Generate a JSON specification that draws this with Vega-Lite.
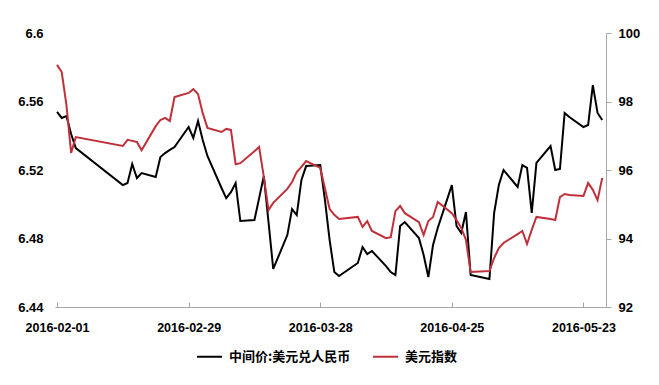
{
  "$schema": "https://vega.github.io/schema/vega-lite/v6.json",
  "width": 551,
  "height": 274,
  "autosize": {"type": "none"},
  "padding": {"left": 55, "top": 33, "right": 53, "bottom": 78},
  "background": "white",
  "config": {
    "view": {"stroke": null},
    "font": "Liberation Sans",
    "axis": {"grid": false, "labelFont": "Liberation Sans", "labelFontWeight": "bold", "labelColor": "#000000", "labelFontSize": 12.5, "title": null}
  },
  "data": {
    "values": [
      {"date": "2016-02-01", "cny": 6.5539, "dxy": 99.07},
      {"date": "2016-02-02", "cny": 6.5504, "dxy": 98.86},
      {"date": "2016-02-03", "cny": 6.5515, "dxy": 97.90},
      {"date": "2016-02-04", "cny": 6.5410, "dxy": 96.50},
      {"date": "2016-02-05", "cny": 6.5328, "dxy": 96.96},
      {"date": "2016-02-15", "cny": 6.5112, "dxy": 96.70},
      {"date": "2016-02-16", "cny": 6.5124, "dxy": 96.88},
      {"date": "2016-02-17", "cny": 6.5235, "dxy": 96.85},
      {"date": "2016-02-18", "cny": 6.5153, "dxy": 96.82},
      {"date": "2016-02-19", "cny": 6.5182, "dxy": 96.58},
      {"date": "2016-02-22", "cny": 6.5159, "dxy": 97.28},
      {"date": "2016-02-23", "cny": 6.5276, "dxy": 97.46},
      {"date": "2016-02-24", "cny": 6.5299, "dxy": 97.52},
      {"date": "2016-02-25", "cny": 6.5317, "dxy": 97.43},
      {"date": "2016-02-26", "cny": 6.5334, "dxy": 98.13},
      {"date": "2016-02-29", "cny": 6.5451, "dxy": 98.25},
      {"date": "2016-03-01", "cny": 6.5387, "dxy": 98.36},
      {"date": "2016-03-02", "cny": 6.5486, "dxy": 98.22},
      {"date": "2016-03-03", "cny": 6.5375, "dxy": 97.66},
      {"date": "2016-03-04", "cny": 6.5282, "dxy": 97.23},
      {"date": "2016-03-07", "cny": 6.5095, "dxy": 97.11},
      {"date": "2016-03-08", "cny": 6.5036, "dxy": 97.20},
      {"date": "2016-03-09", "cny": 6.5071, "dxy": 97.17},
      {"date": "2016-03-10", "cny": 6.5124, "dxy": 96.17},
      {"date": "2016-03-11", "cny": 6.4902, "dxy": 96.20},
      {"date": "2016-03-14", "cny": 6.4908, "dxy": 96.55},
      {"date": "2016-03-15", "cny": 6.5036, "dxy": 96.67},
      {"date": "2016-03-16", "cny": 6.5165, "dxy": 95.80},
      {"date": "2016-03-17", "cny": 6.4896, "dxy": 94.83},
      {"date": "2016-03-18", "cny": 6.4622, "dxy": 95.04},
      {"date": "2016-03-21", "cny": 6.4820, "dxy": 95.45},
      {"date": "2016-03-22", "cny": 6.4972, "dxy": 95.65},
      {"date": "2016-03-23", "cny": 6.4937, "dxy": 95.94},
      {"date": "2016-03-24", "cny": 6.5142, "dxy": 96.09},
      {"date": "2016-03-25", "cny": 6.5223, "dxy": 96.26},
      {"date": "2016-03-28", "cny": 6.5229, "dxy": 96.06},
      {"date": "2016-03-29", "cny": 6.5025, "dxy": 95.47},
      {"date": "2016-03-30", "cny": 6.4791, "dxy": 94.86},
      {"date": "2016-03-31", "cny": 6.4604, "dxy": 94.69},
      {"date": "2016-04-01", "cny": 6.4581, "dxy": 94.57},
      {"date": "2016-04-05", "cny": 6.4657, "dxy": 94.63},
      {"date": "2016-04-06", "cny": 6.4750, "dxy": 94.34},
      {"date": "2016-04-07", "cny": 6.4709, "dxy": 94.51},
      {"date": "2016-04-08", "cny": 6.4727, "dxy": 94.22},
      {"date": "2016-04-11", "cny": 6.4639, "dxy": 94.01},
      {"date": "2016-04-12", "cny": 6.4604, "dxy": 94.04},
      {"date": "2016-04-13", "cny": 6.4587, "dxy": 94.80},
      {"date": "2016-04-14", "cny": 6.4873, "dxy": 94.95},
      {"date": "2016-04-15", "cny": 6.4896, "dxy": 94.74},
      {"date": "2016-04-18", "cny": 6.4803, "dxy": 94.48},
      {"date": "2016-04-19", "cny": 6.4704, "dxy": 94.10},
      {"date": "2016-04-20", "cny": 6.4575, "dxy": 94.51},
      {"date": "2016-04-21", "cny": 6.4762, "dxy": 94.63},
      {"date": "2016-04-22", "cny": 6.4861, "dxy": 95.07},
      {"date": "2016-04-25", "cny": 6.5112, "dxy": 94.74},
      {"date": "2016-04-26", "cny": 6.4873, "dxy": 94.54},
      {"date": "2016-04-27", "cny": 6.4832, "dxy": 94.31},
      {"date": "2016-04-28", "cny": 6.4955, "dxy": 93.96},
      {"date": "2016-04-29", "cny": 6.4587, "dxy": 93.02},
      {"date": "2016-05-03", "cny": 6.4563, "dxy": 93.05},
      {"date": "2016-05-04", "cny": 6.4949, "dxy": 93.43},
      {"date": "2016-05-05", "cny": 6.5112, "dxy": 93.72},
      {"date": "2016-05-06", "cny": 6.5200, "dxy": 93.87},
      {"date": "2016-05-09", "cny": 6.5101, "dxy": 94.13},
      {"date": "2016-05-10", "cny": 6.5229, "dxy": 94.22},
      {"date": "2016-05-11", "cny": 6.5212, "dxy": 93.84},
      {"date": "2016-05-12", "cny": 6.4949, "dxy": 94.25},
      {"date": "2016-05-13", "cny": 6.5241, "dxy": 94.63},
      {"date": "2016-05-16", "cny": 6.5340, "dxy": 94.57},
      {"date": "2016-05-17", "cny": 6.5200, "dxy": 94.54},
      {"date": "2016-05-18", "cny": 6.5206, "dxy": 95.21},
      {"date": "2016-05-19", "cny": 6.5533, "dxy": 95.30},
      {"date": "2016-05-20", "cny": 6.5509, "dxy": 95.27},
      {"date": "2016-05-23", "cny": 6.5451, "dxy": 95.24},
      {"date": "2016-05-24", "cny": 6.5463, "dxy": 95.62},
      {"date": "2016-05-25", "cny": 6.5696, "dxy": 95.42},
      {"date": "2016-05-26", "cny": 6.5533, "dxy": 95.12},
      {"date": "2016-05-27", "cny": 6.5492, "dxy": 95.77}
    ]
  },
  "encoding": {
    "x": {
      "field": "date",
      "type": "temporal",
      "scale": {"type": "utc", "domain": [1454247648000, 1464376320000]},
      "axis": {
        "values": [1454284800000, 1456704000000, 1459123200000, 1461542400000, 1463961600000],
        "format": "%Y-%m-%d",
        "domainColor": "#a6a6a6",
        "domainWidth": 1,
        "tickColor": "#a6a6a6",
        "tickSize": -5,
        "labelPadding": 19,
        "labelOverlap": false,
        "labelFlush": false
      }
    }
  },
  "layer": [
    {
      "mark": {"type": "line", "strokeWidth": 2, "interpolate": "linear"},
      "encoding": {
        "y": {
          "field": "cny",
          "type": "quantitative",
          "scale": {"domain": [6.44, 6.6], "zero": false, "nice": false},
          "axis": {
            "orient": "left",
            "values": [6.44, 6.48, 6.52, 6.56, 6.6],
            "format": ".2~f",
            "domain": false,
            "ticks": false,
            "labelPadding": 12,
            "labelFontSize": 13
          }
        },
        "color": {
          "datum": "中间价:美元兑人民币",
          "type": "nominal",
          "scale": {"domain": ["中间价:美元兑人民币", "美元指数"], "range": ["#000000", "#C0303A"]},
          "legend": {
            "title": null,
            "orient": "none",
            "legendX": 141,
            "legendY": 310,
            "direction": "horizontal",
            "symbolType": "stroke",
            "symbolSize": 625,
            "symbolStrokeWidth": 2,
            "labelFont": "Noto Sans CJK SC",
            "labelFontWeight": "bold",
            "labelFontSize": 13,
            "labelColor": "#000000",
            "labelOffset": 6,
            "columnPadding": 18,
            "padding": 0
          }
        }
      }
    },
    {
      "mark": {"type": "line", "strokeWidth": 2, "interpolate": "linear"},
      "encoding": {
        "y": {
          "field": "dxy",
          "type": "quantitative",
          "scale": {"domain": [92, 100], "zero": false, "nice": false},
          "axis": {
            "orient": "right",
            "values": [92, 94, 96, 98, 100],
            "domainColor": "#a6a6a6",
            "domainWidth": 1,
            "tickColor": "#a6a6a6",
            "tickSize": 5,
            "labelPadding": 7,
            "labelFontSize": 13
          }
        },
        "color": {"datum": "美元指数", "type": "nominal"}
      }
    }
  ],
  "resolve": {"scale": {"y": "independent"}}
}
